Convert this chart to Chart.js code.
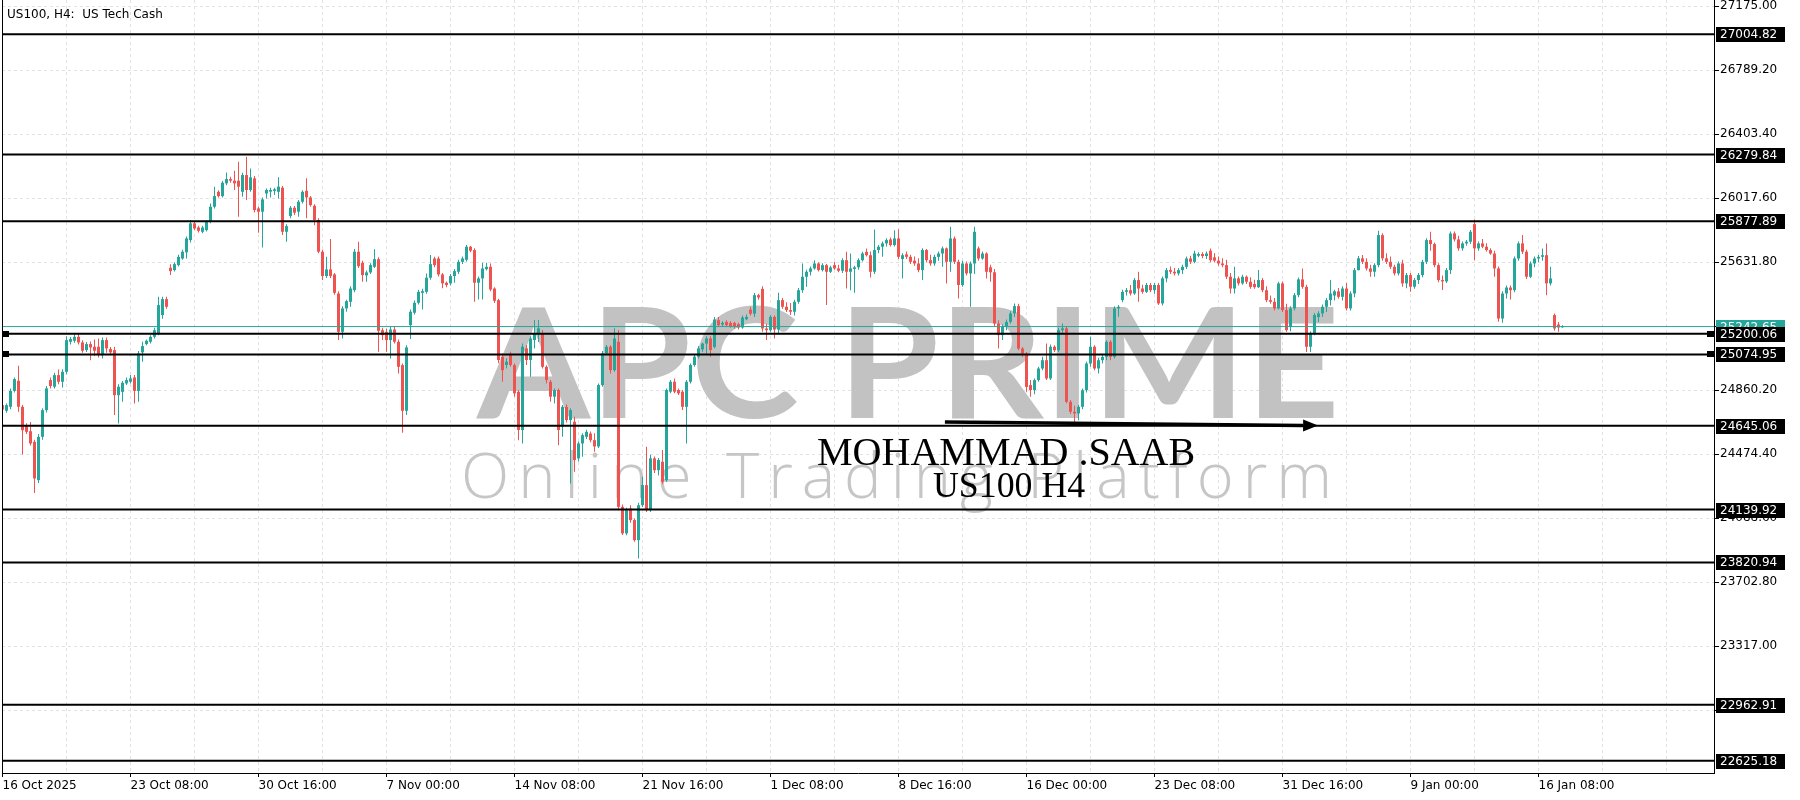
<!DOCTYPE html>
<html>
<head>
<meta charset="utf-8">
<title>US100, H4: US Tech Cash</title>
<script src="https://cdn.jsdelivr.net/npm/chart.js@4.4.1/dist/chart.umd.min.js"></script>
<style>
  html, body { margin: 0; padding: 0; background: #fff; overflow: hidden; }
  #wrap { width: 1800px; height: 800px; }
</style>
</head>
<body>
<div id="wrap"><canvas id="chart" width="1800" height="800"></canvas></div>
<script>
// H4 candles, 16 Oct 2025 -> 19 Jan 2026 (one entry per bar)
const opens = [
  24769,24735,24759,24855,24916,24759,24648,24612,24548,24317,
  24578,24739,24920,24880,24950,24910,24970,25151,25157,25181,
  25147,25101,25137,25121,25121,25070,25161,25107,25101,24829,
  24849,24900,24910,24936,24855,25087,25137,25151,25181,25201,
  25312,25408,25597,25583,25613,25653,25690,25764,25865,25840,
  25814,25824,25875,25965,26055,26029,26106,26132,26122,26122,
  26055,26156,26066,26136,25955,25935,26045,26056,26060,26055,
  26080,25814,25909,25959,25935,25995,26061,26021,25971,25885,
  25694,25547,25587,25557,25442,25211,25352,25392,25462,25694,
  25627,25551,25569,25603,25649,25221,25211,25161,25225,25151,
  25010,24735,25251,25326,25386,25446,25452,25537,25653,25653,
  25557,25507,25503,25547,25573,25633,25645,25724,25704,25507,
  25533,25589,25603,25472,25402,25061,25011,25071,25010,24850,
  24619,25111,25041,25161,25195,25201,25000,24910,24820,24860,
  24639,24759,24679,24669,24448,24538,24578,24598,24558,24520,
  24890,25081,25121,24980,25151,24156,23996,24146,24076,23955,
  24166,24287,24136,24448,24377,24428,24317,24850,24910,24860,
  24850,24759,24910,25011,25061,25105,25140,25171,25120,25281,
  25255,25271,25265,25265,25257,25237,25287,25345,25320,25432,
  25470,25231,25221,25301,25225,25402,25362,25342,25332,25392,
  25462,25543,25573,25593,25623,25583,25613,25573,25613,25593,
  25579,25643,25573,25590,25600,25643,25693,25673,25573,25704,
  25724,25744,25768,25734,25774,25650,25678,25663,25640,25623,
  25583,25704,25643,25623,25663,25683,25714,25633,25774,25633,
  25493,25623,25563,25623,25714,25653,25683,25600,25570,25261,
  25191,25241,25271,25322,25366,25110,25080,24890,24860,24920,
  24990,25040,24930,25121,25100,25221,25232,24789,24729,24719,
  24759,24859,25020,25121,24990,25040,25060,25151,25060,25352,
  25402,25452,25462,25442,25523,25472,25452,25493,25462,25493,
  25382,25533,25583,25573,25563,25583,25603,25653,25633,25670,
  25680,25668,25700,25660,25640,25623,25613,25543,25472,25533,
  25503,25543,25513,25500,25480,25523,25462,25402,25392,25352,
  25503,25342,25240,25352,25432,25527,25482,25121,25201,25300,
  25322,25362,25402,25430,25455,25422,25472,25352,25442,25583,
  25654,25633,25593,25573,25613,25794,25654,25633,25603,25563,
  25623,25503,25553,25483,25523,25553,25633,25764,25740,25613,
  25523,25515,25583,25804,25768,25714,25744,25754,25860,25714,
  25744,25724,25704,25683,25593,25291,25442,25478,25462,25653,
  25744,25694,25543,25623,25653,25663,25673,25503,25312,25255,
  25238
];
const highs = [
  24780,24779,24870,24936,25006,24770,24660,24668,24560,24595,
  24750,24885,24935,24965,24984,24985,25185,25180,25197,25201,
  25160,25150,25153,25165,25171,25177,25177,25120,25121,24895,
  24915,24935,24950,24950,25095,25151,25165,25190,25235,25422,
  25422,25422,25619,25630,25675,25705,25785,25885,25881,25850,
  25850,25885,25985,26086,26065,26120,26172,26146,26182,26236,
  26170,26267,26196,26150,25965,26020,26075,26080,26080,26142,
  26090,25860,25970,25970,26005,26065,26136,26030,25980,25895,
  25705,25663,25770,25565,25455,25365,25405,25485,25710,25754,
  25640,25580,25625,25708,25660,25235,25231,25240,25245,25165,
  25020,25130,25345,25400,25465,25470,25563,25674,25663,25665,
  25565,25515,25560,25590,25645,25665,25735,25728,25715,25545,
  25627,25627,25623,25480,25410,25081,25051,25091,25020,24860,
  25141,25131,25185,25282,25282,25222,25010,24920,24870,24870,
  24770,24775,24750,24699,24550,24600,24620,24610,24600,24900,
  25095,25131,25130,25232,25222,24170,24150,24166,24085,24180,
  24337,24518,24470,24460,24450,24498,24870,24920,24930,24870,
  24860,24920,25020,25075,25125,25145,25185,25185,25301,25300,
  25275,25280,25275,25272,25265,25310,25315,25360,25445,25440,
  25486,25260,25312,25310,25446,25415,25390,25385,25405,25475,
  25623,25585,25605,25643,25630,25625,25620,25610,25633,25615,
  25655,25693,25683,25610,25655,25693,25714,25695,25828,25735,
  25755,25775,25780,25824,25830,25685,25695,25675,25665,25655,
  25715,25710,25675,25675,25695,25725,25720,25844,25785,25645,
  25640,25635,25635,25844,25725,25695,25690,25615,25590,25280,
  25255,25285,25335,25382,25380,25120,25090,24920,24930,25000,
  25060,25141,25135,25130,25235,25261,25245,24800,24765,24770,
  24870,25030,25181,25130,25055,25075,25160,25160,25365,25372,
  25465,25475,25493,25535,25573,25495,25505,25505,25505,25505,
  25545,25595,25605,25595,25595,25615,25665,25670,25700,25690,
  25690,25695,25714,25685,25665,25655,25645,25565,25603,25545,
  25555,25550,25540,25525,25583,25535,25485,25430,25415,25513,
  25515,25380,25365,25445,25539,25593,25495,25215,25325,25335,
  25375,25415,25523,25465,25475,25485,25505,25455,25595,25668,
  25674,25655,25615,25625,25820,25805,25685,25665,25615,25635,
  25645,25565,25565,25535,25565,25645,25775,25814,25750,25625,
  25550,25595,25815,25815,25790,25755,25765,25825,25888,25755,
  25770,25745,25715,25700,25605,25455,25490,25490,25665,25755,
  25794,25705,25635,25665,25675,25714,25744,25603,25322,25270,
  25250
];
const lows = [
  24735,24723,24745,24845,24729,24472,24595,24525,24240,24300,
  24560,24725,24870,24870,24895,24876,24955,25135,25145,25135,
  25085,25090,25040,25065,25056,25050,25085,25070,24709,24658,
  24789,24890,24900,24779,24789,25030,25130,25140,25170,25190,
  25290,25350,25553,25575,25605,25645,25653,25750,25825,25810,
  25805,25815,25865,25955,26020,26020,26095,26110,26066,25905,
  26025,26005,26055,25930,25808,25720,26015,26021,26035,26015,
  25794,25754,25895,25915,25905,25985,25895,25965,25854,25684,
  25523,25535,25535,25435,25161,25171,25332,25362,25450,25595,
  25513,25513,25560,25595,25091,25161,25091,25050,25140,24960,
  24602,24709,25167,25315,25375,25346,25440,25525,25600,25545,
  25473,25480,25490,25507,25560,25620,25635,25690,25392,25406,
  25406,25580,25455,25385,25021,24910,24990,25000,24820,24558,
  24538,25011,24940,25111,25150,24990,24900,24789,24779,24528,
  24578,24665,24297,24367,24430,24458,24565,24545,24488,24510,
  24880,25070,24960,24970,24136,23986,23985,24060,23945,23845,
  24155,24125,24125,24360,24345,24295,24305,24840,24840,24830,
  24739,24538,24900,25000,25050,25090,25081,25061,25110,25240,
  25245,25240,25235,25230,25225,25230,25280,25310,25300,25405,
  25211,25161,25211,25171,25201,25350,25330,25312,25310,25380,
  25446,25482,25550,25585,25575,25575,25372,25565,25585,25570,
  25565,25472,25462,25446,25585,25635,25665,25539,25560,25685,
  25663,25725,25725,25725,25650,25533,25650,25620,25610,25570,
  25523,25630,25610,25610,25640,25603,25503,25573,25620,25412,
  25482,25550,25362,25560,25640,25645,25533,25513,25241,25110,
  25161,25220,25260,25300,25100,25060,24849,24819,24835,24910,
  24980,24920,24920,25090,25090,25205,24780,24715,24668,24678,
  24745,24845,25000,24980,24960,25020,25040,25040,25050,25302,
  25390,25430,25430,25435,25392,25440,25445,25450,25440,25372,
  25370,25510,25560,25550,25550,25560,25590,25620,25625,25660,
  25655,25650,25630,25630,25610,25600,25530,25442,25442,25490,
  25495,25500,25470,25470,25475,25450,25390,25380,25340,25345,
  25330,25211,25215,25340,25420,25470,25090,25090,25190,25270,
  25300,25330,25370,25400,25410,25400,25340,25340,25420,25580,
  25620,25580,25543,25543,25600,25640,25620,25590,25550,25550,
  25483,25473,25453,25470,25500,25540,25620,25700,25600,25510,
  25463,25505,25560,25755,25700,25700,25730,25740,25643,25700,
  25715,25695,25675,25543,25271,25265,25412,25406,25450,25640,
  25680,25530,25535,25600,25630,25640,25432,25490,25217,25211,
  25235
];
const closes = [
  24743,24769,24855,24926,24759,24618,24608,24538,24327,24578,
  24739,24870,24884,24950,24910,24970,25161,25167,25181,25147,
  25097,25137,25117,25097,25070,25161,25111,25087,24829,24880,
  24904,24920,24930,24855,25081,25125,25157,25181,25221,25372,
  25408,25362,25577,25619,25663,25694,25774,25865,25834,25820,
  25840,25875,25965,26029,26029,26110,26132,26122,26106,26086,
  26156,26066,26142,25945,25935,26009,26066,26066,26070,26086,
  25814,25848,25959,25929,25995,26055,26021,25975,25885,25694,
  25547,25587,25547,25446,25211,25352,25396,25472,25694,25607,
  25553,25569,25613,25649,25217,25191,25161,25225,25151,25000,
  24735,25117,25332,25386,25452,25456,25537,25619,25613,25557,
  25503,25493,25547,25577,25633,25653,25724,25700,25507,25533,
  25593,25603,25466,25398,25041,24980,25031,25011,24840,24619,
  25121,25041,25171,25201,25232,25000,24920,24820,24860,24619,
  24759,24679,24739,24438,24538,24588,24608,24558,24520,24890,
  25081,25121,24980,25171,24156,23996,24136,24076,23955,24166,
  24287,24136,24448,24377,24438,24307,24860,24910,24850,24840,
  24759,24910,25011,25061,25111,25140,25171,25101,25285,25251,
  25265,25251,25245,25241,25237,25297,25301,25320,25432,25418,
  25231,25221,25301,25225,25402,25362,25342,25332,25392,25462,
  25543,25573,25593,25623,25583,25613,25573,25599,25593,25579,
  25643,25573,25593,25600,25643,25683,25673,25573,25704,25724,
  25744,25764,25734,25774,25663,25673,25663,25633,25623,25583,
  25704,25643,25623,25663,25683,25714,25633,25774,25633,25493,
  25623,25563,25623,25814,25653,25683,25573,25570,25261,25191,
  25241,25271,25322,25366,25110,25080,24879,24860,24920,24990,
  25040,24930,25121,25100,25221,25232,24789,24729,24719,24759,
  24859,25020,25121,24990,25040,25060,25151,25060,25352,25362,
  25452,25462,25442,25523,25472,25452,25493,25462,25493,25382,
  25533,25583,25573,25563,25583,25603,25653,25633,25683,25680,
  25668,25683,25643,25640,25623,25613,25543,25472,25533,25503,
  25543,25513,25482,25480,25523,25462,25402,25392,25352,25503,
  25342,25221,25352,25432,25527,25482,25121,25201,25312,25322,
  25362,25402,25442,25455,25422,25472,25352,25442,25583,25654,
  25633,25593,25573,25613,25794,25654,25633,25603,25563,25623,
  25503,25553,25483,25523,25553,25633,25764,25740,25613,25523,
  25515,25583,25804,25768,25714,25744,25754,25814,25714,25744,
  25724,25704,25683,25593,25291,25442,25478,25462,25653,25744,
  25694,25543,25623,25653,25663,25673,25503,25533,25231,25237,
  25242.65
];

// time axis labels, one every 32 bars
const xLabels = ['16 Oct 2025', '23 Oct 08:00', '30 Oct 16:00', '7 Nov 00:00', '14 Nov 08:00',
  '21 Nov 16:00', '1 Dec 08:00', '8 Dec 16:00', '16 Dec 00:00', '23 Dec 08:00',
  '31 Dec 16:00', '9 Jan 00:00', '16 Jan 08:00'];
const yTicks = [27175.00, 26789.20, 26403.40, 26017.60, 25631.80, 25246.00,
  24860.20, 24474.40, 24088.60, 23702.80, 23317.00, 22931.20];

// horizontal levels drawn on the chart
const levels = [27004.82, 26279.84, 25877.89, 25200.06, 25074.95,
  24645.06, 24139.92, 23820.94, 22962.91, 22625.18];
const selectedLevels = [25200.06, 25074.95];
const lastPrice = 25242.65;

// arrow under the lows (bar index, price)
const arrowFrom = [235.6, 24668];
const arrowTo = [328.9, 24646];

const X_MIN = -0.125;
const X_MAX = 427.875;
const Y_MIN = 22551.6;
const Y_MAX = 27211.2;
const BULL = '#26a69a';
const BEAR = '#ef5350';
const GRID = '#e2e2e2';
const FONT = "'DejaVu Sans', 'Liberation Sans', sans-serif";

const idx = opens.map((o, i) => i);
const candleColors = opens.map((o, i) => closes[i] >= o ? BULL : BEAR);

function xLabelFor(v) {
  if (v % 32 !== 0) return '';
  return xLabels[v / 32] || '';
}

function gridIndexes() {
  const out = [];
  for (let v = 0; v <= X_MAX; v += 16) out.push(v);
  return out;
}

// keep the plot frame fixed: no extra room for overhanging labels
function fixBox(s, w, h) {
  if (w) s.width = w;
  if (h) s.height = h;
  s.paddingTop = 0;
  s.paddingBottom = 0;
  s.paddingLeft = 0;
  s.paddingRight = 0;
}

// draw a string so that its ink fills the box [x0..x1] x [top..baseline]
function fitText(ctx, text, weight, family, x0, x1, top, baseline) {
  ctx.font = weight + ' 100px ' + family;
  const m = ctx.measureText(text);
  const size = 100 * (baseline - top) / m.actualBoundingBoxAscent;
  ctx.font = weight + ' ' + size + 'px ' + family;
  const m2 = ctx.measureText(text);
  const ink = m2.actualBoundingBoxLeft + m2.actualBoundingBoxRight;
  const sx = (x1 - x0) / ink;
  ctx.save();
  ctx.translate(x0 + m2.actualBoundingBoxLeft * sx, baseline);
  ctx.scale(sx, 1);
  ctx.fillText(text, 0, 0);
  ctx.restore();
}

// same, but widen by letter spacing instead of stretching
function spacedText(ctx, text, weight, family, x0, x1, top, baseline) {
  ctx.font = weight + ' 100px ' + family;
  const m = ctx.measureText('l');
  const size = 100 * (baseline - top) / m.actualBoundingBoxAscent;
  ctx.font = weight + ' ' + size + 'px ' + family;
  const chars = text.split('');
  const widths = chars.map(c => ctx.measureText(c).width);
  const total = widths.reduce((a, b) => a + b, 0);
  const gap = (x1 - x0 - total) / (chars.length - 1);
  let x = x0;
  chars.forEach((c, i) => {
    ctx.fillText(c, x, baseline);
    x += widths[i] + gap;
  });
}

const watermark = {
  id: 'watermark',
  beforeDatasetsDraw(chart) {
    const ctx = chart.ctx;
    ctx.save();
    ctx.textBaseline = 'alphabetic';
    ctx.fillStyle = '#c2c2c2';
    fitText(ctx, 'APC PRIME', '700', 'Lato', 476, 1334, 306, 418);
    ctx.fillStyle = '#c6c6c6';
    spacedText(ctx, 'Online Trading Platform', '300', "'Open Sans'", 461, 1332, 450, 498);
    ctx.restore();
  }
};

const overlay = {
  id: 'overlay',
  afterDatasetsDraw(chart) {
    const { ctx, chartArea, scales } = chart;
    const xs = scales.x, ys = scales.y;
    ctx.save();

    // author note and arrow
    ctx.fillStyle = '#000';
    ctx.strokeStyle = '#000';
    ctx.textBaseline = 'alphabetic';
    fitText(ctx, 'MOHAMMAD .SAAB', 'normal', "'Liberation Serif', serif", 818, 1194, 438, 465);
    fitText(ctx, 'US100 H4', 'normal', "'Liberation Serif', serif", 933, 1085, 473, 497);

    const x1 = xs.getPixelForValue(arrowFrom[0]), y1 = ys.getPixelForValue(arrowFrom[1]);
    const x2 = xs.getPixelForValue(arrowTo[0]), y2 = ys.getPixelForValue(arrowTo[1]);
    const ang = Math.atan2(y2 - y1, x2 - x1);
    const headLen = 15, headW = 6;
    const bx = x2 - headLen * Math.cos(ang), by = y2 - headLen * Math.sin(ang);
    ctx.lineWidth = 3.5;
    ctx.beginPath();
    ctx.moveTo(x1, y1);
    ctx.lineTo(bx, by);
    ctx.stroke();
    ctx.beginPath();
    ctx.moveTo(x2, y2);
    ctx.lineTo(bx - headW * Math.sin(ang), by + headW * Math.cos(ang));
    ctx.lineTo(bx + headW * Math.sin(ang), by - headW * Math.cos(ang));
    ctx.closePath();
    ctx.fill();

    // left frame line
    ctx.fillRect(chartArea.left, chartArea.top, 1, chartArea.bottom - chartArea.top);

    // price tags on the right axis
    ctx.font = '12px ' + FONT;
    ctx.textBaseline = 'middle';
    const tag = (v, bg) => {
      const py = Math.round(ys.getPixelForValue(v));
      ctx.fillStyle = bg;
      ctx.fillRect(chartArea.right + 2, py - 7, 69, 15);
      ctx.fillStyle = '#fff';
      ctx.fillText(v.toFixed(2), chartArea.right + 6, py + 1);
    };
    tag(lastPrice, BULL);
    levels.forEach(v => tag(v, '#000'));

    // anchor squares of the selected lines
    ctx.fillStyle = '#000';
    selectedLevels.forEach(v => {
      const py = Math.round(ys.getPixelForValue(v));
      ctx.fillRect(chartArea.left, py - 3, 7, 6);
      ctx.fillRect(chartArea.right - 7, py - 3, 7, 6);
    });

    // symbol caption
    ctx.textBaseline = 'alphabetic';
    ctx.fillText('US100, H4:  US Tech Cash', 7, 18);
    ctx.restore();
  }
};

function levelLine(v, color, width) {
  return {
    type: 'line',
    data: [{ x: X_MIN, y: v }, { x: X_MAX, y: v }],
    borderColor: color,
    borderWidth: width,
    pointRadius: 0,
    fill: false,
    order: 0
  };
}

document.addEventListener('DOMContentLoaded', function () {
  const ctx = document.getElementById('chart').getContext('2d');
  const chart = new Chart(ctx, {
    type: 'bar',
    data: {
      datasets: [
        {
          label: 'wicks',
          data: idx.map(i => ({ x: i, y: [lows[i], highs[i]] })),
          backgroundColor: candleColors,
          barThickness: 1,
          grouped: false,
          inflateAmount: 0,
          order: 3
        },
        {
          label: 'bodies',
          data: idx.map(i => ({ x: i, y: [opens[i], closes[i]] })),
          backgroundColor: candleColors,
          barThickness: 3,
          minBarLength: 1,
          grouped: false,
          inflateAmount: 0,
          order: 2
        },
        Object.assign(levelLine(lastPrice, BULL, 1), { order: 1 }),
        ...levels.map(v => levelLine(v, '#000', 2))
      ]
    },
    options: {
      responsive: false,
      animation: false,
      devicePixelRatio: 1,
      events: [],
      layout: { padding: { left: 2, right: 0, top: 0, bottom: 0 } },
      plugins: { legend: { display: false }, tooltip: { enabled: false } },
      scales: {
        x: {
          type: 'linear',
          min: X_MIN,
          max: X_MAX,
          offset: false,
          grid: {
            color: GRID,
            offset: false,
            tickLength: 4,
            tickColor: c => (c.tick && xLabelFor(c.tick.value) !== '') ? '#000' : 'rgba(0,0,0,0)'
          },
          border: { display: true, color: '#000', width: 1, dash: [3, 3] },
          ticks: {
            autoSkip: false,
            maxRotation: 0,
            align: 'start',
            padding: 2,
            color: '#000',
            font: { family: FONT, size: 12 },
            callback: v => xLabelFor(v)
          },
          afterBuildTicks: s => { s.ticks = gridIndexes().map(v => ({ value: v })); },
          afterFit: s => fixBox(s, 0, 27)
        },
        y: {
          type: 'linear',
          position: 'right',
          min: Y_MIN,
          max: Y_MAX,
          grid: { color: GRID, tickLength: 5, tickColor: '#000' },
          border: { display: true, color: '#000', width: 1, dash: [3, 3] },
          ticks: {
            padding: 1,
            color: '#000',
            font: { family: FONT, size: 12 },
            callback: v => Number(v).toFixed(2)
          },
          afterBuildTicks: s => { s.ticks = yTicks.map(v => ({ value: v })); },
          afterFit: s => fixBox(s, 86, 0)
        }
      }
    },
    plugins: [watermark, overlay]
  });
  console.log('chart area', chart.chartArea);
});
</script>
</body>
</html>
